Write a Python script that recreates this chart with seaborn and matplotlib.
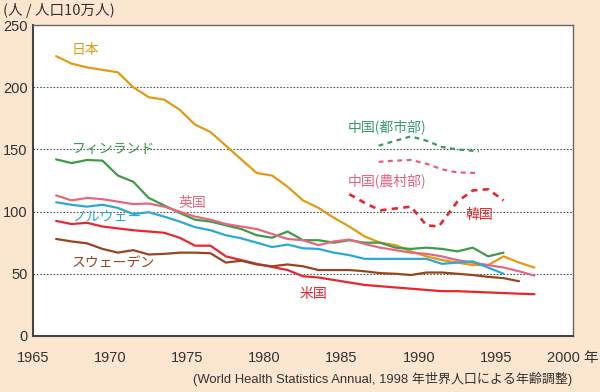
import numpy as np
import pandas as pd
import matplotlib
matplotlib.use("Agg")
import matplotlib.pyplot as plt
import seaborn as sns

# ---- data ----
years = [1966.5 + i for i in range(32)]  # 1966.5 .. 1997.5

japan = [225, 219, 216, 214, 212, 200, 192, 190, 182, 170, 164, 153, 142, 131, 129, 120,
         109, 103, 95, 88, 80, 75, 73, 68, 64, 61, 59, 57, 57, 64, 59, 55]
finland = [142, 139, 141.5, 141, 129, 124, 111, 105, 99, 93.5, 92, 89, 86, 81, 79, 84,
           77, 77, 75, 77, 75, 75, 71, 70, 71, 70, 68, 71, 64, 67]
uk = [113, 109, 111, 110, 108, 106, 106.5, 104, 100, 96, 93.5, 90, 88, 86, 82, 78,
      77, 73, 76, 77.5, 74, 71, 69, 67, 66, 64, 61, 59, 57, 55, 52, 48.5]
norway = [107.5, 105.5, 104, 105.5, 103, 98, 99.5, 96, 92, 87.5, 85, 81, 78.5, 75, 71.5, 73.5,
          70.5, 70, 67, 65, 62, 62, 62, 62, 62, 58, 59, 60, 55, 50]
usa = [92.5, 90, 91, 88, 86.5, 85, 84, 83, 79, 72.6, 72.6, 64, 61, 58, 55.5, 53,
       48, 47, 45, 43, 41, 40, 39, 38, 37, 36, 36, 35.5, 35, 34.5, 34, 33.6]
sweden = [78, 76, 74.5, 70, 67, 69, 65.5, 66, 67, 67, 66.5, 59, 60.5, 57.5, 56, 57.5,
          56, 53, 53, 53, 52, 50.5, 50, 49, 51, 51, 50, 49, 47.5, 46.5, 44]

china_years = [1987.4, 1988.5, 1989.5, 1990.5, 1991.5, 1992.5, 1993.9]
china_urban = [153, 157, 160.5, 157, 152, 150, 148.5]
china_rural = [140, 141, 141.5, 138.5, 134, 131.5, 131]

korea_years = [1985.5, 1986.5, 1987.5, 1988.5, 1989.5, 1990.5, 1991.3, 1992.5, 1993.5, 1994.5, 1995.5]
korea = [114, 107, 101, 102.5, 104, 89, 88, 108, 117, 118, 109]

x_ticks = [1965, 1970, 1975, 1980, 1985, 1990, 1995, 2000]
x_tick_labels = ["1965", "1970", "1975", "1980", "1985", "1990", "1995", "2000 年"]
y_ticks = [0, 50, 100, 150, 200, 250]

# ---- style ----
sns.set_theme(style="white")
plt.rcParams['font.family'] = ['Liberation Sans', 'Noto Sans CJK JP', 'DejaVu Sans']
JP = ['Noto Sans CJK JP', 'DejaVu Sans']

bg = '#fde6cf'
fig = plt.figure(figsize=(6.0, 3.92), dpi=100, facecolor=bg)
ax = fig.add_axes([0.055, 0.143, 0.900, 0.793])
ax.set_facecolor('white')

series = [
    (years[:len(japan)], japan, '#e39a10'),
    (years[:len(finland)], finland, '#3d9b4a'),
    (years[:len(uk)], uk, '#e7677f'),
    (years[:len(norway)], norway, '#2aa9d6'),
    (years[:len(usa)], usa, '#e8262b'),
    (years[:len(sweden)], sweden, '#97451f'),
]
for xs, ys, c in series:
    sns.lineplot(x=xs, y=ys, ax=ax, color=c, linewidth=1.6)

dash = (2.2, 2.0)
sns.lineplot(x=china_years, y=china_urban, ax=ax, color='#3a9a58', linewidth=1.6).lines[-1].set_dashes(dash)
sns.lineplot(x=china_years, y=china_rural, ax=ax, color='#e2607e', linewidth=1.6).lines[-1].set_dashes(dash)
sns.lineplot(x=korea_years, y=korea, ax=ax, color='#e22a2e', linewidth=1.9).lines[-1].set_dashes((2.4, 2.0))

ax.set_xlim(1965, 2000)
ax.set_ylim(0, 250)
ax.set_xticks(x_ticks)
ax.set_xticklabels(x_tick_labels)
ax.set_yticks(y_ticks)
ax.set_yticklabels([str(v) for v in y_ticks])
ax.tick_params(axis='x', direction='in', length=5, width=1, color='#555555',
               labelsize=10.5, pad=11, colors='#333333')
ax.tick_params(axis='y', direction='in', length=0, labelsize=10.5, pad=4, colors='#333333')
for lbl in ax.get_xticklabels():
    lbl.set_color('#333333')

for v in [50, 100, 150, 200]:
    ax.axhline(v, color='#555555', linewidth=0.8, linestyle=(0, (1.5, 1.5)), zorder=0)

for s in ['left', 'bottom']:
    ax.spines[s].set_color('#444444')
    ax.spines[s].set_linewidth(1.5)
for s in ['top', 'right']:
    ax.spines[s].set_color('#666666')
    ax.spines[s].set_linewidth(1.0)
ax.set_xlabel('')
ax.set_ylabel('')

# ---- labels ----
fs = 10
ax.text(1967.5, 230, '日本', color='#e39a10', fontsize=fs, family=JP, va='center')
ax.text(1967.5, 150, 'フィンランド', color='#3d9b4a', fontsize=fs, family=JP, va='center')
ax.text(1974.4, 107, '英国', color='#e7677f', fontsize=fs, family=JP, va='center')
ax.text(1967.5, 96, 'ノルウェー', color='#2aa9d6', fontsize=fs, family=JP, va='center')
ax.text(1967.5, 58, 'スウェーデン', color='#97451f', fontsize=fs, family=JP, va='center')
ax.text(1982.3, 34, '米国', color='#e8262b', fontsize=fs, family=JP, va='center')
ax.text(1985.4, 168, '中国(都市部)', color='#3a9a6a', fontsize=fs, family=JP, va='center')
ax.text(1985.4, 125, '中国(農村部)', color='#e2607e', fontsize=fs, family=JP, va='center')
ax.text(1993.0, 97, '韓国', color='#e22a2e', fontsize=fs, family=JP, va='center')

fig.text(0.005, 0.973, '(人 / 人口10万人)', fontsize=10.5, family=JP, color='#333333', va='center')
fig.text(0.953, 0.032, '(World Health Statistics Annual, 1998 年世界人口による年齢調整)',
         fontsize=9.4, family=['Liberation Sans', 'Noto Sans CJK JP'], color='#333333',
         ha='right', va='center')

fig.savefig('out.png', dpi=100, facecolor=bg)
